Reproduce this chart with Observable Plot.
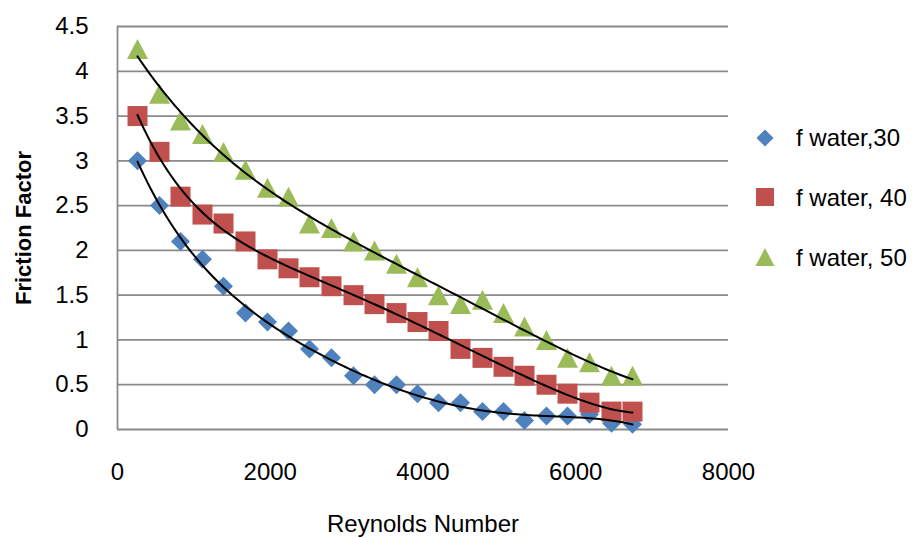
<!DOCTYPE html>
<html>
<head>
<meta charset="utf-8">
<script src="https://cdn.jsdelivr.net/npm/d3@7"></script>
<script src="https://cdn.jsdelivr.net/npm/@observablehq/plot@0.6"></script>
<style>
  html, body { margin: 0; padding: 0; background: #fff; }
  #wrap { position: relative; width: 915px; height: 538px; overflow: hidden; }
  #legend { position: absolute; left: 0; top: 0; }
</style>
</head>
<body>
<div id="wrap"></div>
<script>
// ---- data ----
const reynolds = [262, 550, 825, 1113, 1388, 1676, 1964, 2239, 2514, 2802, 3090, 3365,
                  3653, 3928, 4203, 4491, 4779, 5054, 5329, 5617, 5892, 6180, 6468, 6743];
const fWater30 = [3.0, 2.5, 2.1, 1.9, 1.6, 1.3, 1.2, 1.1, 0.9, 0.8, 0.6, 0.5,
                  0.5, 0.4, 0.3, 0.3, 0.2, 0.2, 0.1, 0.15, 0.15, 0.17, 0.07, 0.06];
const fWater40 = [3.5, 3.1, 2.6, 2.4, 2.3, 2.1, 1.9, 1.8, 1.7, 1.6, 1.5, 1.4,
                  1.3, 1.2, 1.1, 0.9, 0.8, 0.7, 0.6, 0.5, 0.4, 0.3, 0.2, 0.2];
const fWater50 = [4.25, 3.75, 3.45, 3.3, 3.1, 2.9, 2.7, 2.6, 2.3, 2.25, 2.1, 2.0,
                  1.85, 1.7, 1.5, 1.4, 1.45, 1.3, 1.15, 1.0, 0.8, 0.75, 0.6, 0.6];
const seriesNames = ["f water,30", "f water, 40", "f water, 50"];
const seriesColors = ["#4F81BD", "#C0504D", "#9BBB59"];
const trendOrders = [6, 6, 4]; // polynomial trendline order per series
const xTicks = [0, 2000, 4000, 6000, 8000];
const yTicks = [0, 0.5, 1, 1.5, 2, 2.5, 3, 3.5, 4, 4.5];
const xLabel = "Reynolds Number";
const yLabel = "Friction Factor";

// ---- symbols (Excel-like markers) ----
function mk(drawFn) { return { draw(ctx, size) { drawFn(ctx, Math.sqrt(size / Math.PI)); } }; }
const diamond = mk((c, r) => { const h = r * 0.95; c.moveTo(0, -h); c.lineTo(h, 0); c.lineTo(0, h); c.lineTo(-h, 0); c.closePath(); });
const square = mk((c, r) => { const h = r; c.moveTo(-h, -h); c.lineTo(h, -h); c.lineTo(h, h); c.lineTo(-h, h); c.closePath(); });
const triangle = mk((c, r) => { const h = r; c.moveTo(0, -h); c.lineTo(h * 1.05, h); c.lineTo(-h * 1.05, h); c.closePath(); });
const symbols = [diamond, square, triangle];

const seriesValues = [fWater30, fWater40, fWater50];
const rows = [];
seriesValues.forEach((vals, s) => vals.forEach((v, i) => rows.push({ x: reynolds[i], y: v, s })));

// ---- polynomial trendlines (least squares, like Excel) ----
function polyfit(xs, ys, deg) {
  const n = deg + 1;
  const A = Array.from({ length: n }, () => new Array(n + 1).fill(0));
  for (let k = 0; k < xs.length; k++) {
    const x = xs[k] / 1000, y = ys[k];
    for (let i = 0; i < n; i++) {
      for (let j = 0; j < n; j++) A[i][j] += Math.pow(x, i + j);
      A[i][n] += y * Math.pow(x, i);
    }
  }
  for (let i = 0; i < n; i++) {
    let p = i;
    for (let r = i + 1; r < n; r++) if (Math.abs(A[r][i]) > Math.abs(A[p][i])) p = r;
    [A[i], A[p]] = [A[p], A[i]];
    for (let r = 0; r < n; r++) {
      if (r === i) continue;
      const f = A[r][i] / A[i][i];
      for (let c = i; c <= n; c++) A[r][c] -= f * A[i][c];
    }
  }
  return A.map((row, i) => row[n] / A[i][i]);
}
const trend = [];
seriesValues.forEach((vals, s) => {
  const coef = polyfit(reynolds, vals, trendOrders[s]);
  const x0 = reynolds[0], x1 = reynolds[reynolds.length - 1];
  for (let k = 0; k <= 150; k++) {
    const x = x0 + (x1 - x0) * k / 150;
    const t = x / 1000;
    trend.push({ x, y: coef.reduce((a, c, i) => a + c * Math.pow(t, i), 0), s });
  }
});

const gridColor = "#8a8a8a";
const chart = Plot.plot({
  width: 915,
  height: 538,
  marginLeft: 117,
  marginRight: 187,
  marginTop: 26,
  marginBottom: 109,
  style: { fontFamily: "'Liberation Sans', Arial, sans-serif", fontSize: "24px", color: "#000", background: "#fff" },
  x: { domain: [0, 8000], ticks: xTicks },
  y: { domain: [0, 4.5], ticks: yTicks },
  marks: [
    Plot.gridY(yTicks, { stroke: gridColor, strokeOpacity: 1, strokeWidth: 1.8 }),
    Plot.ruleX([0], { stroke: gridColor, strokeWidth: 1.8 }),
    Plot.axisX(xTicks, { tickSize: 0, tickPadding: 33, tickFormat: d => String(d), fontSize: 24, label: null }),
    Plot.axisY(yTicks, { tickSize: 0, tickPadding: 29, tickFormat: d => String(d), fontSize: 24, label: null }),
    ...[0, 1, 2].map(s => Plot.dot(rows.filter(d => d.s === s), {
      x: "x", y: "y", r: 10, symbol: () => symbols[s], fill: seriesColors[s], stroke: "none"
    })),
    Plot.line(trend, { x: "x", y: "y", z: "s", stroke: "#000", strokeWidth: 2, curve: "linear" }),
    Plot.text([xLabel], { frameAnchor: "bottom", lineAnchor: "middle", dy: 95, fontSize: 24 }),
    Plot.text([yLabel], { frameAnchor: "left", textAnchor: "middle", lineAnchor: "middle", dx: -94, rotate: -90, fontSize: 22, fontWeight: "bold" })
  ]
});
document.getElementById("wrap").appendChild(chart);

// ---- legend ----
const legendItems = [
  { cx: 765, cy: 138, ty: 146 },
  { cx: 765, cy: 197, ty: 206 },
  { cx: 765, cy: 257, ty: 266 }
];
const lg = d3.select("#wrap").append("svg").attr("id", "legend").attr("width", 915).attr("height", 538);
legendItems.forEach((it, i) => {
  const p = d3.path();
  symbols[i].draw(p, Math.PI * 9 * 9);
  lg.append("path").attr("d", p.toString()).attr("transform", `translate(${it.cx},${it.cy})`).attr("fill", seriesColors[i]);
  lg.append("text").attr("x", 796).attr("y", it.ty).attr("font-family", "'Liberation Sans', Arial, sans-serif")
    .attr("font-size", 24).attr("fill", "#000").text(seriesNames[i]);
});
</script>
</body>
</html>
